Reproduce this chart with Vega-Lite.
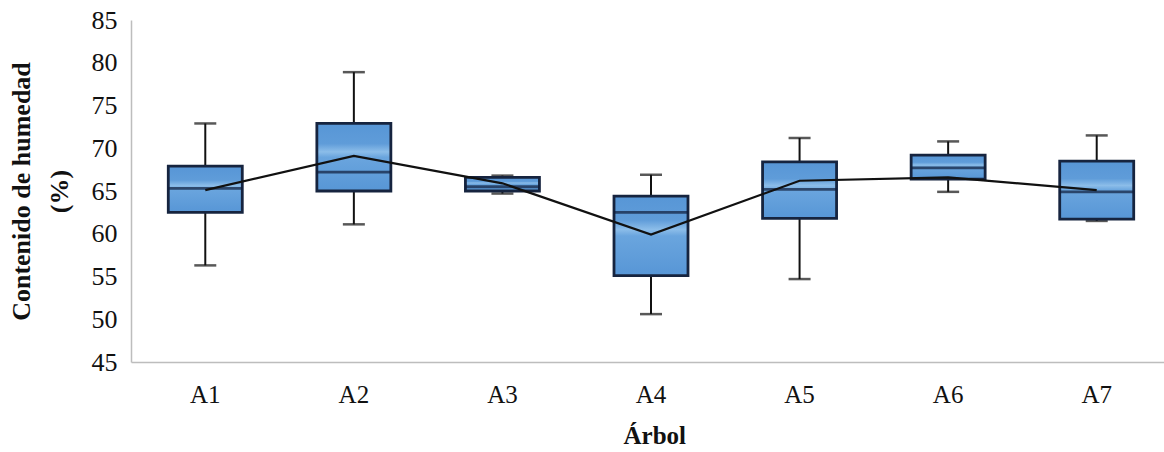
{
  "$schema": "https://vega.github.io/schema/vega-lite/v6.json",
  "autosize": {"type": "none"},
  "padding": {"left": 131, "top": 20, "right": 0, "bottom": 90},
  "width": 1040,
  "height": 342,
  "background": "white",
  "config": {
    "view": {"stroke": null},
    "font": "Liberation Serif"
  },
  "data": {
    "values": [
      {"tree": "A1", "min": 56.3, "q1": 62.5, "median": 65.3, "q3": 67.9, "max": 72.9, "mean": 65.1},
      {"tree": "A2", "min": 61.1, "q1": 65.0, "median": 67.2, "q3": 72.9, "max": 78.9, "mean": 69.1},
      {"tree": "A3", "min": 64.7, "q1": 65.0, "median": 65.5, "q3": 66.6, "max": 66.8, "mean": 65.9},
      {"tree": "A4", "min": 50.6, "q1": 55.1, "median": 62.5, "q3": 64.4, "max": 66.9, "mean": 59.9},
      {"tree": "A5", "min": 54.7, "q1": 61.8, "median": 65.2, "q3": 68.4, "max": 71.2, "mean": 66.2},
      {"tree": "A6", "min": 64.9, "q1": 66.4, "median": 67.7, "q3": 69.2, "max": 70.8, "mean": 66.6},
      {"tree": "A7", "min": 61.5, "q1": 61.7, "median": 64.9, "q3": 68.5, "max": 71.5, "mean": 65.1}
    ]
  },
  "encoding": {
    "x": {
      "field": "tree", "type": "nominal",
      "scale": {"paddingInner": 0, "paddingOuter": 0},
      "axis": {
        "title": "Árbol", "labelAngle": 0, "ticks": false,
        "domainColor": "#bdbdbd", "domainWidth": 1.5,
        "labelFont": "Liberation Serif", "labelFontSize": 25, "labelColor": "#111",
        "labelPadding": 20,
        "titleFont": "Liberation Serif", "titleFontSize": 25, "titleFontWeight": "bold",
        "titleColor": "#111", "titlePadding": 16,
        "titleAnchor": "start", "titleX": 492
      }
    }
  },
  "layer": [
    {
      "mark": {"type": "rule", "color": "#111", "strokeWidth": 2},
      "encoding": {
        "y": {
          "field": "min", "type": "quantitative",
          "scale": {"domain": [45, 85], "nice": false, "zero": false},
          "axis": {
            "values": [45, 50, 55, 60, 65, 70, 75, 80, 85],
            "grid": false, "ticks": false,
            "domainColor": "#bdbdbd", "domainWidth": 1.5,
            "labelFont": "Liberation Serif", "labelFontSize": 26, "labelColor": "#111",
            "labelPadding": 14,
            "title": ["Contenido de humedad", "(%)"],
            "titleFont": "Liberation Serif", "titleFontSize": 26, "titleFontWeight": "bold",
            "titleColor": "#111", "titleLineHeight": 38,
            "titleAngle": -90, "titleBaseline": "top", "titleAlign": "center",
            "titleX": -123, "titleY": 171
          }
        },
        "y2": {"field": "max"}
      }
    },
    {
      "mark": {"type": "tick", "color": "#111", "thickness": 2.5, "size": 22, "orient": "horizontal"},
      "encoding": {"y": {"field": "min", "type": "quantitative"}}
    },
    {
      "mark": {"type": "tick", "color": "#111", "thickness": 2.5, "size": 22, "orient": "horizontal"},
      "encoding": {"y": {"field": "max", "type": "quantitative"}}
    },
    {
      "mark": {
        "type": "bar", "size": 74, "stroke": "#16243f", "strokeWidth": 2.8,
        "fill": {
          "gradient": "linear", "x1": 0, "y1": 0, "x2": 0, "y2": 1,
          "stops": [
            {"offset": 0, "color": "#5796d6"},
            {"offset": 0.3, "color": "#5f9cd9"},
            {"offset": 0.42, "color": "#8cbde9"},
            {"offset": 0.5, "color": "#6aa5de"},
            {"offset": 1, "color": "#5796d6"}
          ]
        }
      },
      "encoding": {
        "y": {"field": "q1", "type": "quantitative"},
        "y2": {"field": "q3"}
      }
    },
    {
      "mark": {"type": "tick", "color": "#0f1d3a", "thickness": 2.8, "size": 74, "orient": "horizontal"},
      "encoding": {"y": {"field": "median", "type": "quantitative"}}
    },
    {
      "mark": {"type": "line", "color": "#111", "strokeWidth": 2.2},
      "encoding": {"y": {"field": "mean", "type": "quantitative"}}
    }
  ]
}
